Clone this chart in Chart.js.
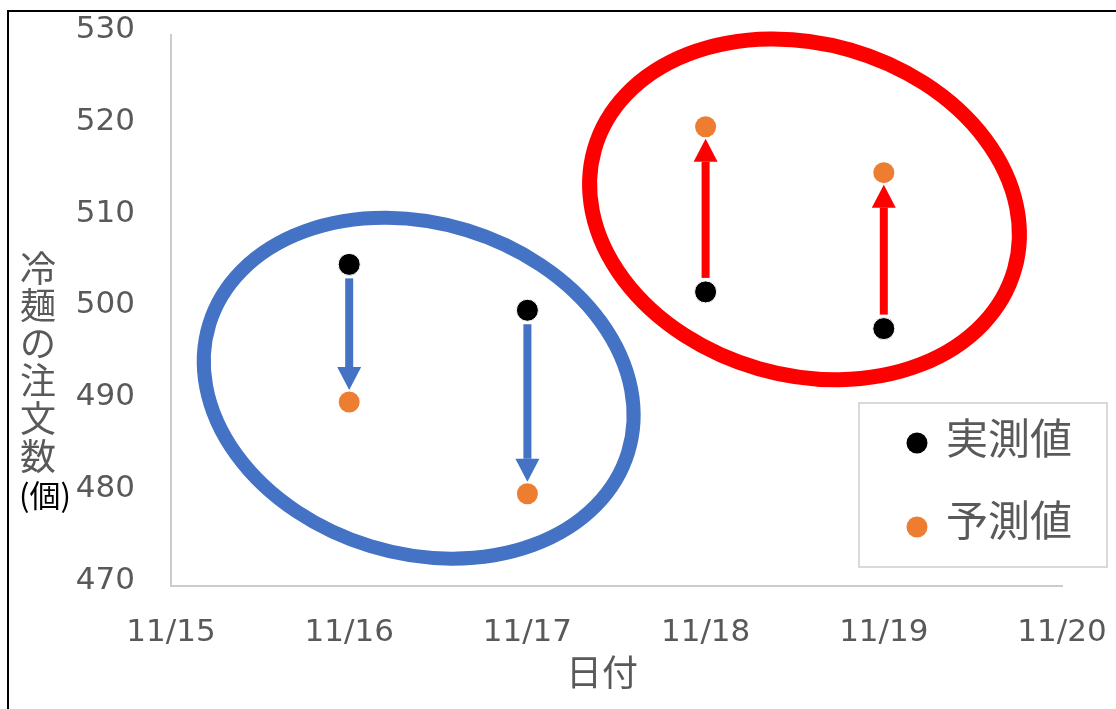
<!DOCTYPE html>
<html>
<head>
<meta charset="utf-8">
<title>冷麺の注文数</title>
<script src="https://cdn.jsdelivr.net/npm/chart.js@4.4.1/dist/chart.umd.min.js"></script>
<style>
  html, body { margin: 0; padding: 0; background: #fff; }
  #wrap { position: relative; width: 1116px; height: 709px; overflow: hidden; }
  #frame { position: absolute; left: 7px; top: 10px; width: 1200px; height: 800px;
           border: 2px solid #000; box-sizing: border-box; }
  #c { position: absolute; left: 0; top: 0; }
</style>
</head>
<body>
<div id="wrap">
  <div id="frame"></div>
  <canvas id="c" width="1116" height="709"></canvas>
</div>
<script>
// Order counts per day (November)
const month = 11;
const days = [16, 17, 18, 19];
const actual = [505, 500, 502, 498];     // 実測値
const forecast = [490, 480, 520, 515];   // 予測値
const seriesNames = ['実測値', '予測値'];

// Axis ticks
const xTicks = [15, 16, 17, 18, 19, 20];
const yTicks = [470, 480, 490, 500, 510, 520, 530];

// Axis titles
const xTitle = '日付';
const yTitleChars = ['冷', '麺', 'の', '注', '文', '数'];
const yTitleUnit = '(個)';

const GRAY_TEXT = '#595959';
const CJK = '"Noto Sans CJK JP", "Noto Sans CJK SC", sans-serif';
const NUM = '"DejaVu Sans", Verdana, sans-serif';

// Rings that group the falling and rising days (centre in data units, radii in axis units)
const rings = [
  { cx: 16.39, cy: 491.5, rx: 1.229, ry: 18.0, angle: 17, color: '#4472c4', width: 14 },
  { cx: 18.555, cy: 511.0, rx: 1.226, ry: 18.07, angle: 16, color: '#ff0000', width: 15 }
];

const ringPlugin = {
  id: 'groupRings',
  beforeDatasetsDraw(chart) {
    const { ctx, scales: { x, y } } = chart;
    ctx.save();
    rings.forEach(r => {
      const cx = x.getPixelForValue(r.cx);
      const cy = y.getPixelForValue(r.cy);
      const rx = x.getPixelForValue(r.cx + r.rx) - cx;
      const ry = y.getPixelForValue(r.cy - r.ry) - cy;
      ctx.beginPath();
      ctx.ellipse(cx, cy, rx, ry, r.angle * Math.PI / 180, 0, Math.PI * 2);
      ctx.strokeStyle = r.color;
      ctx.lineWidth = r.width;
      ctx.stroke();
    });
    ctx.restore();
  }
};

// Arrows from each measured value to its forecast
const arrowPlugin = {
  id: 'changeArrows',
  beforeDatasetsDraw(chart) {
    const { ctx, scales: { x, y } } = chart;
    const startGap = 14, endGap = 12, shaft = 8, headW = 24, headL = 23;
    ctx.save();
    days.forEach((d, i) => {
      const px = x.getPixelForValue(d);
      const y0 = y.getPixelForValue(actual[i]);
      const y1 = y.getPixelForValue(forecast[i]);
      const dir = y1 > y0 ? 1 : -1;
      const color = forecast[i] < actual[i] ? '#4472c4' : '#ff0000';
      const ys = y0 + dir * startGap;
      const tip = y1 - dir * endGap;
      const base = tip - dir * headL;
      ctx.fillStyle = color;
      ctx.fillRect(px - shaft / 2, Math.min(ys, base), shaft, Math.abs(base - ys));
      ctx.beginPath();
      ctx.moveTo(px - headW / 2, base);
      ctx.lineTo(px + headW / 2, base);
      ctx.lineTo(px, tip);
      ctx.closePath();
      ctx.fill();
    });
    ctx.restore();
  }
};

// Axis titles and the boxed legend
const decorPlugin = {
  id: 'decor',
  afterDraw(chart) {
    const { ctx } = chart;
    ctx.save();
    // x title
    ctx.fillStyle = GRAY_TEXT;
    ctx.font = '36px ' + CJK;
    ctx.textAlign = 'center';
    ctx.textBaseline = 'middle';
    ctx.fillText(xTitle, 602, 672);
    // y title, one character per line
    ctx.textAlign = 'left';
    yTitleChars.forEach((ch, i) => ctx.fillText(ch, 20, 268 + i * 37.6));
    ctx.fillStyle = '#000';
    ctx.font = '31px ' + CJK;
    ctx.fillText(yTitleUnit, 19, 495);
    // legend
    ctx.strokeStyle = '#d9d9d9';
    ctx.lineWidth = 2;
    ctx.strokeRect(859, 403, 248, 164);
    const rows = [{ dot: 443, text: 438 }, { dot: 527, text: 520 }];
    chart.data.datasets.forEach((ds, i) => {
      ctx.beginPath();
      ctx.arc(917, rows[i].dot, 10.5, 0, Math.PI * 2);
      ctx.fillStyle = ds.backgroundColor;
      ctx.fill();
      ctx.fillStyle = GRAY_TEXT;
      ctx.font = '42px ' + CJK;
      ctx.textAlign = 'left';
      ctx.fillText(ds.label, 946, rows[i].text);
    });
    ctx.restore();
  }
};

new Chart(document.getElementById('c'), {
  type: 'scatter',
  data: {
    datasets: [
      {
        label: seriesNames[0],
        data: days.map((d, i) => ({ x: d, y: actual[i] })),
        backgroundColor: '#000000',
        borderColor: '#ffffff',
        borderWidth: 1,
        pointRadius: 11
      },
      {
        label: seriesNames[1],
        data: days.map((d, i) => ({ x: d, y: forecast[i] })),
        backgroundColor: '#ed7d31',
        borderColor: '#ed7d31',
        borderWidth: 0,
        pointRadius: 10.5
      }
    ]
  },
  options: {
    responsive: false,
    animation: false,
    devicePixelRatio: 1,
    layout: { padding: { left: 0, top: 35, right: 54, bottom: 0 } },
    plugins: { legend: { display: false }, tooltip: { enabled: false } },
    scales: {
      x: {
        type: 'linear',
        min: xTicks[0],
        max: xTicks[xTicks.length - 1],
        afterBuildTicks: s => { s.ticks = xTicks.map(v => ({ value: v })); },
        afterFit: s => { s.height = 123.5; s.paddingLeft = 0; s.paddingRight = 0; },
        grid: { display: false, drawTicks: false },
        border: { display: true, color: '#cccccc', width: 2 },
        ticks: {
          padding: 29,
          color: GRAY_TEXT,
          font: { family: NUM, size: 31 },
          maxRotation: 0,
          callback: v => month + '/' + v
        }
      },
      y: {
        min: yTicks[0],
        max: yTicks[yTicks.length - 1],
        afterBuildTicks: s => { s.ticks = yTicks.map(v => ({ value: v })); },
        afterFit: s => { s.width = 171; s.paddingTop = 0; s.paddingBottom = 0; },
        grid: { display: false, drawTicks: false },
        border: { display: true, color: '#cccccc', width: 2 },
        ticks: {
          padding: 36,
          labelOffset: -5,
          color: GRAY_TEXT,
          font: { family: NUM, size: 31 }
        }
      }
    }
  },
  plugins: [ringPlugin, arrowPlugin, decorPlugin]
});
</script>
</body>
</html>
